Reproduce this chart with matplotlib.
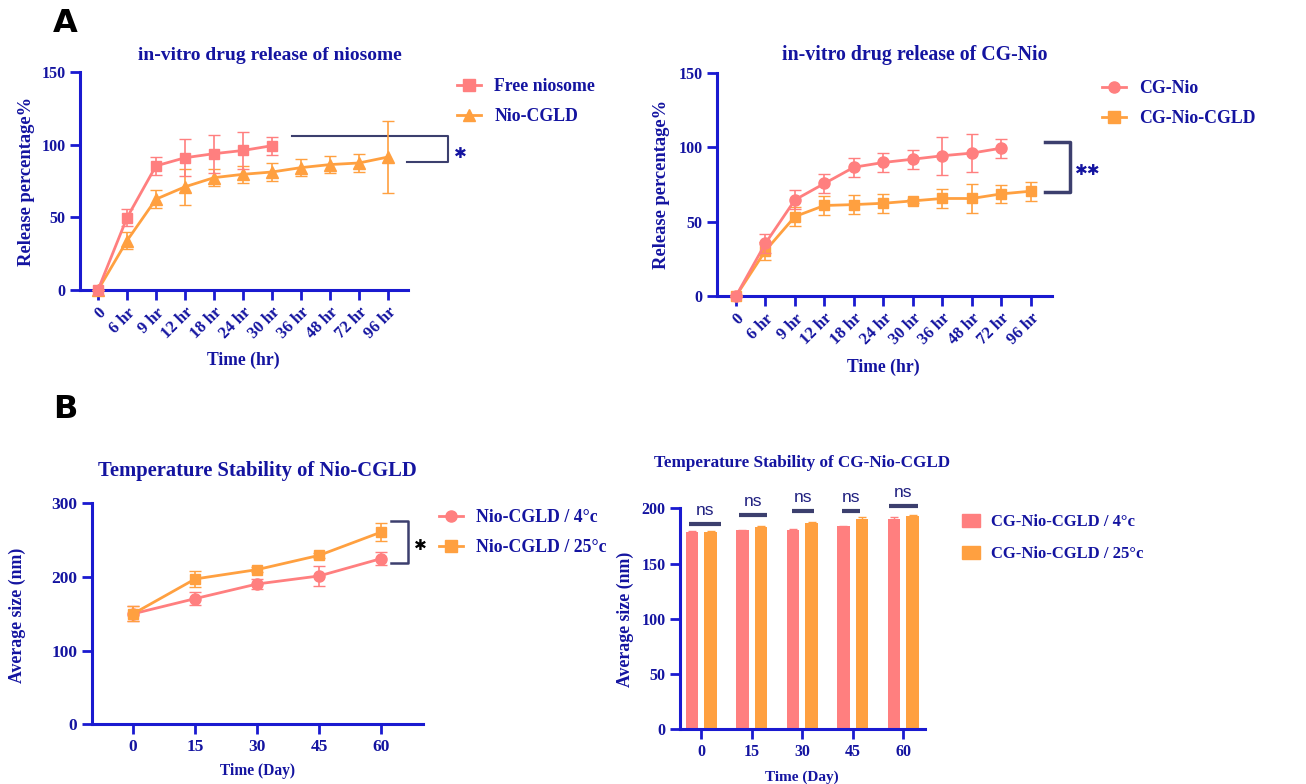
import numpy as np
import matplotlib.pyplot as plt
from matplotlib.lines import Line2D
from matplotlib.patches import Patch

# ---- data ----
hours = ['0', '6 hr', '9 hr', '12 hr', '18 hr', '24 hr', '30 hr', '36 hr', '48 hr', '72 hr', '96 hr']

free_nio = [0, 49.7, 85.4, 91.0, 93.8, 96.0, 99.3]
free_nio_err = [0, 6, 6, 12.8, 13, 12.5, 6.3]
nio_cgld = [0, 33.9, 62.5, 71.0, 77.3, 79.6, 81.2, 84.2, 86.3, 87.4, 91.5]
nio_cgld_err = [0, 6, 6.3, 12.6, 6, 6, 6, 6, 6, 6, 25]

cg_nio = [0, 35.4, 64.6, 75.6, 86.5, 89.7, 91.9, 94.2, 96.0, 99.3]
cg_nio_err = [0, 6.5, 6.3, 6.3, 6.3, 6.2, 6.3, 12.7, 12.7, 6.3]
cg_nio_cgld = [0, 30.5, 53.4, 60.8, 61.4, 62.3, 63.9, 65.5, 65.5, 68.6, 70.4]
cg_nio_cgld_err = [0, 6, 6.3, 6.3, 6.3, 6.3, 1.5, 6.2, 10, 6.2, 6.3]

days = [0, 15, 30, 45, 60]
nio_4c = [150, 170.6, 190.5, 201.4, 225]
nio_4c_err = [10, 8.4, 6.6, 14, 9]
nio_25c = [150, 197.3, 210, 229.4, 261]
nio_25c_err = [10, 11, 3, 3, 12.7]

cg_4c = [178.8, 180.1, 180.7, 183.7, 190.3]
cg_4c_err = [1, 0.5, 0.8, 0.6, 2]
cg_25c = [178.8, 183.4, 187.0, 190.0, 192.8]
cg_25c_err = [1, 0.6, 0.8, 2, 1.5]

PINK = '#ff7f7f'
ORANGE = '#ffa040'
AXIS = '#1a1ad0'
TXT = '#1414a0'
BR = '#3c3f6e'

W, H = 1306, 784
plt.rcParams['font.family'] = ['Liberation Serif', 'DejaVu Serif']
plt.rcParams['font.weight'] = 'bold'

fig = plt.figure(figsize=(W / 100, H / 100), dpi=100)


def axes_px(left, top, right, bottom):
    return fig.add_axes([left / W, 1 - bottom / H, (right - left) / W, (bottom - top) / H])


def ftext(x, y, s, **kw):
    kw.setdefault('ha', 'center')
    kw.setdefault('va', 'center')
    kw.setdefault('color', TXT)
    kw.setdefault('fontweight', 'bold')
    return fig.text(x / W, 1 - y / H, s, **kw)


def style(ax, size=11.5):
    for s in ['top', 'right']:
        ax.spines[s].set_visible(False)
    for s in ['left', 'bottom']:
        ax.spines[s].set_color(AXIS)
        ax.spines[s].set_linewidth(2.2)
    ax.tick_params(color=AXIS, width=2, length=7, labelcolor=TXT, labelsize=size)
    for lab in ax.get_xticklabels() + ax.get_yticklabels():
        lab.set_fontweight('bold')


def star(ax, x, y, s, color=TXT):
    ax.text(x, y, s, color=color, fontsize=11, ha='center', va='center',
            family='DejaVu Sans', fontweight='bold')


def line_legend(x, y, labels, markers, colors, size=12.8):
    handles = [Line2D([], [], color=c, marker=m, markersize=8, lw=2) for m, c in zip(markers, colors)]
    fig.legend(handles, labels, loc='upper left', bbox_to_anchor=(x / W, 1 - y / H),
               frameon=False, borderpad=0, borderaxespad=0, handlelength=1.35,
               labelspacing=0.75, handletextpad=0.75, labelcolor=TXT,
               prop={'weight': 'bold', 'size': size})


# ---------- A left ----------
ax1 = axes_px(80, 72, 408, 290)
x = np.arange(len(hours))
ax1.errorbar(x[:len(nio_cgld)], nio_cgld, yerr=nio_cgld_err, color=ORANGE, marker='^', markersize=8,
             lw=2, capsize=4, elinewidth=1.2, clip_on=False, zorder=3)
ax1.errorbar(x[:len(free_nio)], free_nio, yerr=free_nio_err, color=PINK, marker='s', markersize=7.5,
             lw=2, capsize=4, elinewidth=1.2, clip_on=False, zorder=4)
ax1.set_xlim(-0.62, 10.69)
ax1.set_ylim(0, 150)
ax1.set_yticks([0, 50, 100, 150])
ax1.set_xticks(x)
ax1.set_xticklabels(hours, rotation=45, ha='right', va='top', rotation_mode='anchor')
style(ax1)
ax1.tick_params(axis='x', labelsize=12)
ax1.plot([6.69, 12.07, 12.07, 10.66], [106, 106, 88, 88], color=BR, lw=1.5, clip_on=False)
star(ax1, 12.5, 94, '✱')
ftext(270, 55, 'in-vitro drug release of niosome', fontsize=14)
ftext(27, 181, 'Release percentage%', rotation=90, fontsize=13.3)
ftext(243, 360, 'Time (hr)', fontsize=12.7)
line_legend(457, 78, ['Free niosome', 'Nio-CGLD'], ['s', '^'], [PINK, ORANGE])

# ---------- A right ----------
ax2 = axes_px(717, 72.7, 1052, 296)
ax2.errorbar(x[:len(cg_nio_cgld)], cg_nio_cgld, yerr=cg_nio_cgld_err, color=ORANGE, marker='s',
             markersize=7.5, lw=2, capsize=4, elinewidth=1.2, clip_on=False, zorder=3)
ax2.errorbar(x[:len(cg_nio)], cg_nio, yerr=cg_nio_err, color=PINK, marker='o', markersize=8,
             lw=2, capsize=4, elinewidth=1.2, clip_on=False, zorder=4)
ax2.set_xlim(-0.645, 10.72)
ax2.set_ylim(0, 150)
ax2.set_yticks([0, 50, 100, 150])
ax2.set_xticks(x)
ax2.set_xticklabels(hours, rotation=45, ha='right', va='top', rotation_mode='anchor')
style(ax2)
ax2.tick_params(axis='x', labelsize=12)
ax2.plot([10.49, 11.33, 11.33, 10.49], [103.2, 103.2, 70.1, 70.1], color=BR, lw=2.5, clip_on=False)
star(ax2, 11.94, 84.6, '✱✱')
ftext(915, 55, 'in-vitro drug release of CG-Nio', fontsize=14.3)
ftext(661, 184, 'Release percentage%', rotation=90, fontsize=13.3)
ftext(883, 367, 'Time (hr)', fontsize=12.7)
line_legend(1102, 80, ['CG-Nio', 'CG-Nio-CGLD'], ['o', 's'], [PINK, ORANGE])

# ---------- B left ----------
ax3 = axes_px(91.7, 503.3, 422.7, 724.3)
ax3.errorbar(days, nio_4c, yerr=nio_4c_err, color=PINK, marker='o', markersize=8,
             lw=2, capsize=4, elinewidth=1.2, zorder=3)
ax3.errorbar(days, nio_25c, yerr=nio_25c_err, color=ORANGE, marker='s', markersize=7.5,
             lw=2, capsize=4, elinewidth=1.2, zorder=4)
ax3.set_xlim(-10, 70)
ax3.set_ylim(0, 300)
ax3.set_yticks([0, 100, 200, 300])
ax3.set_xticks(days)
style(ax3, size=12.5)
ax3.plot([62.4, 66.4, 66.4, 62.4], [275.6, 275.6, 219.4, 219.4], color=BR, lw=1.8, clip_on=False)
star(ax3, 69.5, 243, '✱', color='black')
ftext(257, 471, 'Temperature Stability of Nio-CGLD', fontsize=14.9)
ftext(17, 615, 'Average size (nm)', rotation=90, fontsize=12.8)
ftext(257, 771, 'Time (Day)', fontsize=11.2)
line_legend(439, 509, ['Nio-CGLD / 4°c', 'Nio-CGLD / 25°c'], ['o', 's'], [PINK, ORANGE])

# ---------- B right ----------
ax4 = axes_px(680, 508.3, 925, 729.3)
g = np.arange(len(days))
ax4.bar(g - 0.185, cg_4c, 0.25, yerr=cg_4c_err, color=PINK,
        error_kw=dict(ecolor=PINK, capsize=3, elinewidth=1))
ax4.bar(g + 0.185, cg_25c, 0.25, yerr=cg_25c_err, color=ORANGE,
        error_kw=dict(ecolor=ORANGE, capsize=3, elinewidth=1))
ax4.set_xlim(-0.42, 4.43)
ax4.set_ylim(0, 200)
ax4.set_yticks([0, 50, 100, 150, 200])
ax4.set_xticks(g)
ax4.set_xticklabels([str(d) for d in days])
style(ax4, size=11.5)
ns_lines = [(-0.24, 0.40, 185.8), (-0.26, 0.30, 194.3), (-0.20, 0.24, 197.9),
            (-0.22, 0.15, 197.9), (-0.29, 0.29, 202.1)]
for i, (a, b, yl) in enumerate(ns_lines):
    ax4.plot([i + a, i + b], [yl, yl], color=BR, lw=3, clip_on=False, solid_capstyle='butt')
    ax4.text(i + (a + b) / 2, yl + 5, 'ns', color='#202080', fontsize=12.5, ha='center',
             va='bottom', family='Liberation Sans', fontweight='normal')
ftext(802, 463, 'Temperature Stability of CG-Nio-CGLD', fontsize=12.3)
ftext(625, 619, 'Average size (nm)', rotation=90, fontsize=12.8)
ftext(802, 777, 'Time (Day)', fontsize=11)
fig.legend([Patch(color=PINK), Patch(color=ORANGE)], ['CG-Nio-CGLD / 4°c', 'CG-Nio-CGLD / 25°c'],
           loc='upper left', bbox_to_anchor=(962 / W, 1 - 514 / H), frameon=False, borderpad=0,
           borderaxespad=0, handlelength=1.1, handleheight=0.8, labelspacing=0.95, handletextpad=0.65,
           labelcolor=TXT, prop={'weight': 'bold', 'size': 12})

# panel letters
ftext(65, 24, 'A', color='black', fontsize=23, family='DejaVu Sans')
ftext(65, 410, 'B', color='black', fontsize=23, family='DejaVu Sans')

fig.savefig('out.png', dpi=100)
